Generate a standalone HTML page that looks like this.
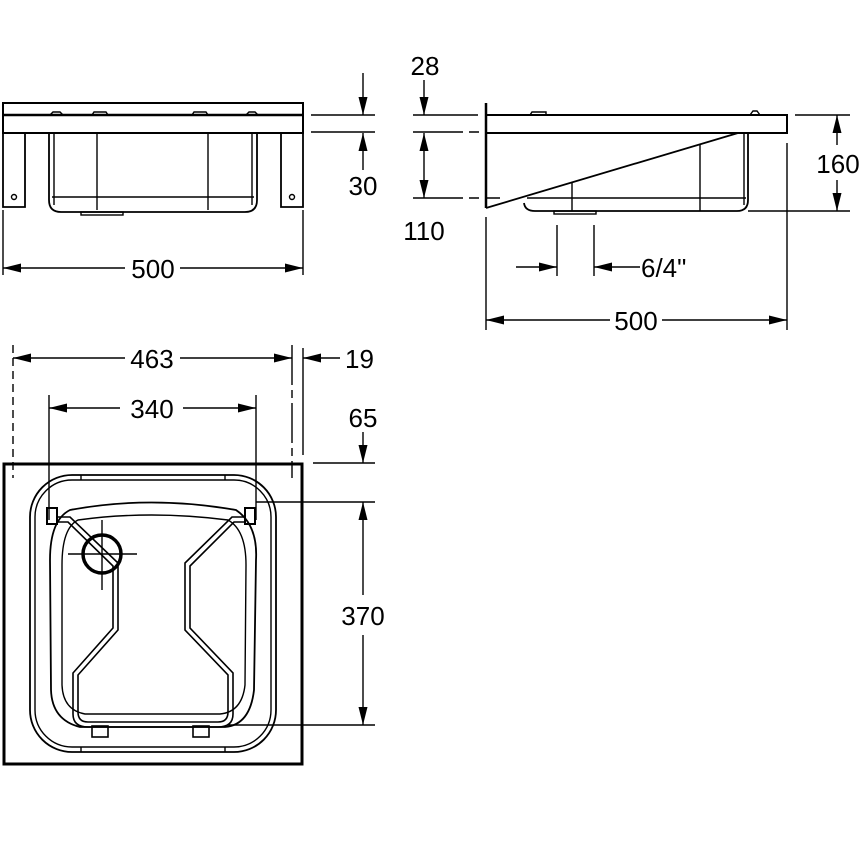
<!DOCTYPE html>
<html><head><meta charset="utf-8"><style>
html,body{margin:0;padding:0;background:#fff;}
svg{display:block;}
text{font-family:"Liberation Sans",sans-serif;font-size:26px;fill:#000;}
</style></head><body>
<svg width="860" height="860" viewBox="0 0 860 860" xmlns="http://www.w3.org/2000/svg">
<defs>
<marker id="a" markerWidth="18" markerHeight="9" refX="18" refY="4.5" orient="auto" markerUnits="userSpaceOnUse"><path d="M0,0 L18,4.5 L0,9 Z" fill="#000"/></marker>
</defs>
<g fill="none" stroke="#000" stroke-width="1.4">
<!-- FRONT VIEW -->
<rect x="3" y="103" width="300" height="30" stroke-width="2"/>
<line x1="3" y1="115" x2="303" y2="115" stroke-width="2.5"/>
<path d="M50,115 l3,-3 h7 l3,3 M92,115 l2,-3 h12 l2,3 M192,115 l2,-3 h12 l2,3 M246,115 l3,-3 h6 l3,3"/>
<path d="M3,133 V207 H25 V133" stroke-width="1.8"/>
<path d="M303,133 V207 H281 V133" stroke-width="1.8"/>
<circle cx="14" cy="197" r="2.5"/><circle cx="292" cy="197" r="2.5"/>
<path d="M49,133 V200 Q49,212 61,212 H245 Q257,212 257,200 V133" stroke-width="1.8"/>
<line x1="54" y1="133" x2="54" y2="205"/><line x1="252" y1="133" x2="252" y2="205"/>
<line x1="97" y1="133" x2="97" y2="210"/><line x1="208" y1="133" x2="208" y2="210"/>
<line x1="52" y1="197" x2="254" y2="197"/>
<rect x="81" y="212" width="42" height="3"/>
<line x1="3" y1="210" x2="3" y2="275"/><line x1="303" y1="210" x2="303" y2="275"/>
<line x1="125" y1="268" x2="3" y2="268" marker-end="url(#a)"/>
<line x1="180" y1="268" x2="303" y2="268" marker-end="url(#a)"/>
<line x1="311" y1="115" x2="375" y2="115"/><line x1="311" y1="132" x2="375" y2="132"/>
<line x1="363" y1="73" x2="363" y2="115" marker-end="url(#a)"/>
<line x1="363" y1="170" x2="363" y2="133" marker-end="url(#a)"/>
<!-- SIDE VIEW -->
<line x1="486" y1="103" x2="486" y2="208" stroke-width="2.5"/>
<path d="M486,115 H787 V133 H486" stroke-width="2"/>
<path d="M530,115 l2,-3 h12 l2,-0 v3 M750,115 l3,-4 h4 l3,4"/>
<line x1="486" y1="208" x2="738" y2="133" stroke-width="1.8"/>
<path d="M748,133 V200 Q748,211 737,211 H535 Q525,211 524,203" stroke-width="1.8"/>
<line x1="744" y1="133" x2="744" y2="205"/>
<line x1="527" y1="198" x2="746" y2="198"/>
<line x1="572" y1="183" x2="572" y2="211"/><line x1="700" y1="145" x2="700" y2="211"/>
<rect x="554" y="211" width="42" height="3"/>
<line x1="413" y1="115" x2="478" y2="115"/>
<line x1="413" y1="132" x2="486" y2="132" stroke-dasharray="50,6,10,6"/>
<line x1="413" y1="198" x2="500" y2="198" stroke-dasharray="50,6,10,6"/>
<line x1="424" y1="80" x2="424" y2="115" marker-end="url(#a)"/>
<line x1="424" y1="165" x2="424" y2="133" marker-end="url(#a)"/>
<line x1="424" y1="165" x2="424" y2="198" marker-end="url(#a)"/>
<line x1="795" y1="115" x2="850" y2="115"/><line x1="748" y1="211" x2="850" y2="211"/>
<line x1="837" y1="145" x2="837" y2="115" marker-end="url(#a)"/>
<line x1="837" y1="180" x2="837" y2="211" marker-end="url(#a)"/>
<line x1="486" y1="217" x2="486" y2="330"/><line x1="787" y1="143" x2="787" y2="330"/>
<line x1="610" y1="320" x2="486" y2="320" marker-end="url(#a)"/>
<line x1="662" y1="320" x2="787" y2="320" marker-end="url(#a)"/>
<line x1="557" y1="225" x2="557" y2="276"/><line x1="594" y1="225" x2="594" y2="276"/>
<line x1="516" y1="267" x2="557" y2="267" marker-end="url(#a)"/>
<line x1="640" y1="267" x2="594" y2="267" marker-end="url(#a)"/>
<!-- TOP VIEW -->
<rect x="4" y="464" width="298" height="300" stroke-width="3"/>
<line x1="13" y1="345" x2="13" y2="478" stroke-dasharray="8,5"/>
<line x1="292" y1="345" x2="292" y2="478" stroke-dasharray="40,5,8,5"/>
<line x1="303" y1="348" x2="303" y2="455"/>
<line x1="125" y1="358" x2="13" y2="358" marker-end="url(#a)"/>
<line x1="180" y1="358" x2="292" y2="358" marker-end="url(#a)"/>
<line x1="340" y1="358" x2="303" y2="358" marker-end="url(#a)"/>
<line x1="49" y1="395" x2="49" y2="520"/><line x1="256" y1="395" x2="256" y2="520"/>
<line x1="120" y1="408" x2="49" y2="408" marker-end="url(#a)"/>
<line x1="183" y1="408" x2="256" y2="408" marker-end="url(#a)"/>
<line x1="313" y1="463" x2="375" y2="463"/>
<line x1="363" y1="432" x2="363" y2="463" marker-end="url(#a)"/>
<line x1="256" y1="502" x2="375" y2="502"/><line x1="228" y1="725" x2="375" y2="725"/>
<line x1="363" y1="595" x2="363" y2="502" marker-end="url(#a)"/>
<line x1="363" y1="635" x2="363" y2="725" marker-end="url(#a)"/>
<rect x="30" y="475" width="246" height="277" rx="42" stroke-width="1.8"/>
<rect x="35" y="480" width="236" height="267" rx="37"/>
<line x1="81" y1="475" x2="81" y2="480"/><line x1="225" y1="475" x2="225" y2="480"/>
<line x1="81" y1="747" x2="81" y2="752"/><line x1="225" y1="747" x2="225" y2="752"/>
<path d="M70,510 Q150,495 236,510 Q258,525 256,560 L254,690 Q250,725 225,727 L80,727 Q52,720 51,690 L50,560 Q50,520 70,510 Z" stroke-width="1.8"/>
<path d="M78,520 Q150,510 228,520 Q246,530 246,565 L245,685 Q242,712 220,714 L85,714 Q63,710 62,685 L62,565 Q62,528 78,520 Z"/>
<g stroke-width="1.6">
<path d="M57,517 H70 L118,563 V630 L78,675 V712 Q78,722 88,722 H218 Q228,722 228,712 V675 L185,630 V563 L232,517 H245"/>
<path d="M57,522 H68 L113,566 V628 L73,673 V714 Q73,727 88,727 H218 Q233,727 233,714 V673 L190,628 V566 L234,522 H245"/>
</g>
<rect x="47" y="508" width="10" height="16" stroke-width="2"/>
<rect x="245" y="508" width="10" height="16" stroke-width="2"/>
<rect x="92" y="726" width="16" height="11" stroke-width="1.6"/>
<rect x="193" y="726" width="16" height="11" stroke-width="1.6"/>
<circle cx="102" cy="554" r="19" stroke-width="3.5"/>
<line x1="68" y1="554" x2="137" y2="554"/><line x1="102" y1="520" x2="102" y2="590"/>
</g>
<text x="153" y="278" text-anchor="middle">500</text>
<text x="363" y="195" text-anchor="middle">30</text>
<text x="425" y="75" text-anchor="middle">28</text>
<text x="424" y="240" text-anchor="middle">110</text>
<text x="838" y="173" text-anchor="middle">160</text>
<text x="636" y="330" text-anchor="middle">500</text>
<text x="641" y="277">6/4"</text>
<text x="152" y="368" text-anchor="middle">463</text>
<text x="152" y="418" text-anchor="middle">340</text>
<text x="345" y="368">19</text>
<text x="363" y="427" text-anchor="middle">65</text>
<text x="363" y="625" text-anchor="middle">370</text>
</svg>
</body></html>
